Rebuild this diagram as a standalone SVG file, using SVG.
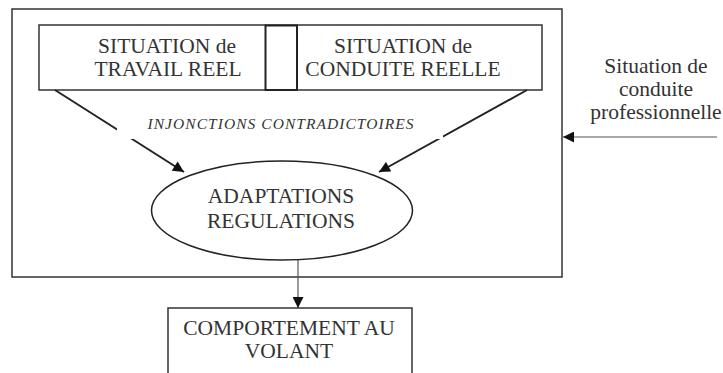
<svg xmlns="http://www.w3.org/2000/svg" width="723" height="373" viewBox="0 0 723 373">
<style>
text{font-family:"Liberation Serif","Times New Roman",serif;fill:#333;font-size:21.5px;text-anchor:middle}
.box{fill:#fff;stroke:#333;stroke-width:1.5}
.ln{stroke:#222;stroke-width:2;fill:none}
.thin{stroke:#555;stroke-width:1.2;fill:none}
.it{font-style:italic;font-size:15.5px;letter-spacing:1.05px}
</style>
<defs>
<marker id="ah2" viewBox="0 0 10 10" refX="10" refY="5" markerWidth="12" markerHeight="11" markerUnits="userSpaceOnUse" orient="auto"><path d="M0,0L10,5L0,10z" fill="#111"/></marker>
</defs>
<g id="frame"><rect class="box" x="12" y="9" width="550" height="268" stroke-width="2"/></g>
<g id="top-box">
<rect class="box" x="39" y="25" width="503" height="65"/>
<rect x="265.5" y="25.5" width="31.5" height="64.5" fill="#fff" stroke="#222" stroke-width="2"/>
</g>
<g id="travail"><text x="167" y="53">SITUATION de</text><text x="168" y="76">TRAVAIL REEL</text></g>
<g id="conduite"><text x="403" y="53">SITUATION de</text><text x="403" y="76">CONDUITE REELLE</text></g>
<g id="connectors">
<line class="ln" x1="55" y1="90" x2="184" y2="172" marker-end="url(#ah2)"/>
<line class="ln" x1="527" y1="90" x2="379" y2="172" marker-end="url(#ah2)"/>
<line class="thin" x1="298" y1="260" x2="298" y2="308" marker-end="url(#ah2)"/>
<line class="thin" x1="717" y1="137" x2="563" y2="137" marker-end="url(#ah2)"/>
</g>
<g id="injonctions">
<rect x="117" y="106" width="326" height="33" fill="#fff"/>
<text class="it" x="281" y="129">INJONCTIONS CONTRADICTOIRES</text>
</g>
<g id="adaptations">
<ellipse cx="282" cy="210.5" rx="130.5" ry="49.5" fill="#fff" stroke="#222" stroke-width="1.5"/>
<text x="281" y="203">ADAPTATIONS</text><text x="281" y="228">REGULATIONS</text>
</g>
<g id="comportement">
<rect class="box" x="168" y="308" width="244" height="70"/>
<text x="289" y="335">COMPORTEMENT AU</text><text x="289" y="358">VOLANT</text>
</g>
<g id="professionnelle">
<text x="656" y="73">Situation de</text><text x="656" y="96">conduite</text><text x="656" y="119">professionnelle</text>
</g>
</svg>
